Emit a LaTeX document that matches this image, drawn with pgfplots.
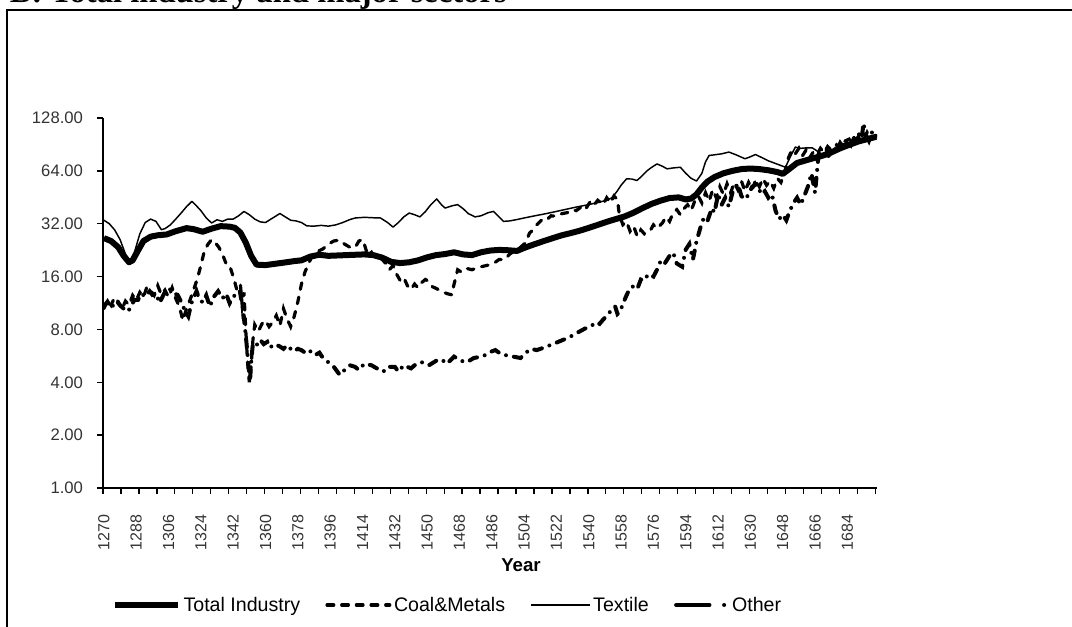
\documentclass[border=0pt]{standalone}
\usepackage{pgfplots}
\pgfplotsset{compat=1.18}
\usepackage{fontspec}
\setmainfont{Liberation Sans}
\newfontfamily\titlefont{Liberation Serif}
\pgfplotsset{
  legLine/.style={legend image code/.code={\draw[##1] (0pt,0pt) -- (47pt,0pt);}},
  legShort/.style={legend image code/.code={\draw[##1] (0pt,0pt) -- (44pt,0pt);}},
  legOther/.style={legend image code/.code={\draw[##1, dash pattern=on 25pt off 11pt on 0pt off 20pt] (1.5pt,0pt) -- (40pt,0pt);}},
}
\begin{document}
\begin{tikzpicture}
\useasboundingbox (-77.25pt,-103.5pt) rectangle (726.75pt,366pt);
\clip (-77.25pt,-103.5pt) rectangle (726.75pt,366pt);
\draw[line width=0.8pt] (-72pt,-130pt) rectangle (780pt,358.5pt);
\node[anchor=base west, inner sep=0pt, font=\titlefont\bfseries\fontsize{24.5}{25}\selectfont] at (-70pt,364.1pt) {B: Total industry and major sectors};
\begin{axis}[
  at={(0pt,0pt)}, anchor=south west,
  scale only axis, width=580.5pt, height=277.5pt,
  xmin=1269.5, xmax=1700.5,
  ymode=log, log basis y=2, ymin=1, ymax=128,
  axis x line=bottom, axis y line=left,
  axis line style={-, line width=1pt, black},
  tick align=outside,
  major tick length=4.5pt,
  every tick/.style={line width=1pt, black},
  yminorticks=false, xminorticks=false,
  ytick={1,2,4,8,16,32,64,128},
  yticklabels={1.00,2.00,4.00,8.00,16.00,32.00,64.00,128.00},
  xtick={1269.5,1279.5,...,1699.5},
  xticklabels={},
  extra x ticks={1270,1288,1306,1324,1342,1360,1378,1396,1414,1432,1450,1468,1486,1504,1522,1540,1558,1576,1594,1612,1630,1648,1666,1684},
  extra x tick labels={1270,1288,1306,1324,1342,1360,1378,1396,1414,1432,1450,1468,1486,1504,1522,1540,1558,1576,1594,1612,1630,1648,1666,1684},
  extra x tick style={tick style={draw=none}},
  xticklabel style={rotate=90, anchor=east, font=\fontsize{12}{14}\selectfont, text=black!80},
  yticklabel style={font=\fontsize{12.5}{14}\selectfont, text=black!80},
  xticklabel shift=12pt, yticklabel shift=7pt,
  legend columns=4,
  legend style={draw=none, fill=none, inner sep=0pt, at={(0.0116,-0.3162)}, anchor=west,
    font=\fontsize{14.7}{16}\selectfont, nodes={inner sep=2pt},
    /tikz/every even column/.append style={column sep=17pt}},
]
\addplot[black, line width=4.5pt, line join=round, legLine] coordinates {
(1270,26.5) (1274,25.5) (1278,23.5) (1281,21) (1284,19.3) (1286,19.8) (1289,22.5) (1292,25.5) (1296,27) (1300,27.5) (1305,27.8) (1310,29) (1316,30.2) (1320,29.8) (1325,28.8) (1330,30) (1335,31) (1340,30.8) (1343,30.3) (1346,28.5) (1349,25) (1352,21) (1355,18.7) (1360,18.6) (1365,18.9) (1370,19.2) (1376,19.6) (1380,19.8) (1385,20.8) (1390,21.3) (1395,21) (1400,21.1) (1405,21.2) (1410,21.3) (1415,21.4) (1420,21.2) (1425,20.5) (1430,19.4) (1435,19.1) (1440,19.3) (1445,19.8) (1450,20.6) (1455,21.2) (1460,21.5) (1465,22) (1470,21.4) (1475,21.2) (1480,22) (1485,22.5) (1490,22.7) (1495,22.6) (1500,22.4) (1505,23.5) (1510,24.5) (1515,25.5) (1520,26.5) (1525,27.5) (1530,28.3) (1535,29.2) (1540,30.3) (1545,31.5) (1550,32.8) (1555,34) (1560,35.2) (1565,37) (1570,39.3) (1575,41.5) (1580,43.3) (1585,44.8) (1590,45.2) (1594,44) (1597,44.5) (1600,47) (1603,51.5) (1606,55.5) (1610,59) (1615,62) (1620,64) (1625,65.5) (1630,66) (1635,65.5) (1640,64.5) (1645,63) (1648,61.5) (1652,66) (1656,71) (1660,73) (1665,75.5) (1670,78) (1675,81.5) (1680,86) (1685,90) (1690,94) (1695,97) (1700,100)
};
\addlegendentry{Total Industry}
\addplot[black, line width=2.4pt, line cap=round, dash pattern=on 5pt off 6pt, legLine] coordinates {
(1270,10.5) (1272,11.8) (1274,11) (1276,12.2) (1278,11.5) (1280,10.4) (1282,11.6) (1284,11) (1286,12.5) (1288,11.7) (1290,13) (1292,12.2) (1294,14) (1296,13.3) (1298,12.5) (1300,14.2) (1302,12.6) (1304,13.4) (1306,12.2) (1308,13.8) (1310,12) (1312,10.8) (1314,9) (1316,10.5) (1318,11.8) (1320,13.5) (1322,15.5) (1324,18.5) (1326,22.5) (1328,24.5) (1330,26) (1332,25) (1334,23.5) (1336,21.5) (1338,19) (1340,18.5) (1342,16) (1344,13.5) (1346,14.5) (1347,11) (1348,13) (1349,8) (1350,5.2) (1351,4.0) (1352,5.0) (1353,7.0) (1354,8.5) (1356,7.8) (1358,8.6) (1360,9.0) (1362,8.3) (1364,8.8) (1366,9.6) (1368,8.4) (1370,10.5) (1372,9.2) (1374,8.3) (1376,9.5) (1378,11.5) (1380,14.5) (1382,17) (1384,19) (1386,21) (1388,22) (1390,22.5) (1392,23) (1395,24.5) (1398,25.5) (1401,25.8) (1404,24.5) (1407,23.5) (1410,23.5) (1412,25.5) (1414,26) (1415,24.5) (1417,21) (1419,22) (1421,20.5) (1424,20.5) (1427,19) (1429,17.5) (1431,18.5) (1433,16.5) (1435,15.2) (1437,15.8) (1439,14.2) (1441,13.5) (1443,14.5) (1445,13.8) (1447,14.8) (1449,15.4) (1451,15) (1453,14) (1455,13.7) (1458,13.2) (1461,12.8) (1463.7,12.6) (1465,14.5) (1467,17.5) (1469,17) (1472,17.8) (1475,17.5) (1478,18) (1481,18.3) (1484,18.6) (1487,19) (1490,20) (1493,20) (1496,21.5) (1499,22.5) (1502,23.5) (1505,25) (1507,28.3) (1509,29.5) (1511,31.5) (1513,33) (1515,34.5) (1517,34) (1519,35.5) (1522,35.3) (1525,36.5) (1528,37) (1531,38.5) (1533,38) (1536,40) (1538,38.5) (1541,43) (1543,41) (1545,43.5) (1548,41.1) (1550,45) (1552,42) (1554,46) (1556,44) (1557,36) (1559,31.6) (1561,33) (1563,29) (1565,31) (1567,27.1) (1569,29.5) (1571,28) (1574,29) (1576,31.5) (1578,30) (1581,32.3) (1583,35) (1585,33) (1587,37) (1589,38.5) (1591,36) (1593,39) (1595,41) (1597,38) (1599,43) (1601,46) (1603,42) (1605,48) (1607,43) (1609,50) (1611,45) (1613,52) (1615,47) (1617,54) (1619,48) (1621,55) (1623,50) (1625,56) (1627,49) (1629,55) (1631,50) (1633,57) (1635,52) (1637,58) (1639,53) (1641,56) (1643,51) (1645,58) (1647,55) (1649,62) (1651,75) (1653,84) (1655,80) (1657,86) (1659,78) (1661,84) (1663,76) (1665,82) (1667,79) (1669,86) (1671,81) (1673,88) (1675,84) (1678,90) (1680,86) (1682,94) (1685,97) (1687,91) (1690,100) (1693,95) (1695,106) (1697,98) (1700,102)
};
\addlegendentry{Coal\&Metals}
\addplot[black, line width=1.1pt, line join=round, legShort] coordinates {
(1270,33.5) (1273,32) (1276,29.5) (1279,26) (1282,21.5) (1284.5,19.6) (1287,22) (1290,28) (1293,32.5) (1296,34) (1299,33) (1302,29.6) (1304,30) (1307,31.5) (1310,34) (1313,36.8) (1316,40) (1319,42.9) (1321,41) (1324,38) (1327,34.5) (1330,32.3) (1333,33.7) (1336,33) (1339,34) (1342,34) (1345,35.5) (1348,37.6) (1351,36) (1354,34) (1357,32.8) (1360,32.5) (1363,34) (1366,35.5) (1368,36.6) (1371,35) (1374,33.5) (1377,33.2) (1380,32.5) (1383,31.1) (1387,31) (1391,31.3) (1395,31) (1399,31.5) (1403,32.5) (1407,33.8) (1410,34.5) (1415,34.8) (1420,34.6) (1424,34.5) (1428,32.5) (1431,30.6) (1434,32.5) (1437,35) (1440,36.8) (1443,36) (1446,35) (1449,37.5) (1452,41) (1455.3,44.3) (1458,41) (1460,39.3) (1464,40.5) (1467,41.1) (1470,39) (1473,36.5) (1476.7,35) (1480,35.5) (1484,37) (1487,37.6) (1490,35) (1492.5,33) (1496,33.2) (1500,33.8) (1504,34.5) (1510,35.5) (1516,36.5) (1522,37.6) (1528,38.8) (1534,40) (1540,41.1) (1546,42.5) (1550,43.5) (1553,45) (1555.7,48.9) (1558,53) (1561,57.6) (1564,57.5) (1566.8,56.4) (1569,59) (1572.4,64) (1575,67) (1578,70.1) (1581,68) (1583.6,65.7) (1587,66.5) (1591,67.1) (1594,62) (1597,58) (1600,56) (1603,62) (1605,72) (1607,78.3) (1610,79) (1614,80) (1618,81.9) (1622,79) (1627,75) (1630,77) (1632.8,79.3) (1636,76.5) (1640,73) (1644,70.5) (1649.5,67.1) (1652,76) (1655,87.4) (1658,86) (1661,86.5) (1664.4,86.6) (1668,82) (1671,78) (1673.6,76.6) (1677,83) (1681,91.3) (1685,92.5) (1690,95.3) (1695,98.5) (1700,101.8)
};
\addlegendentry{Textile}
\addplot[black, line width=3pt, line cap=round, dash pattern=on 6pt off 6pt on 0pt off 6pt, legOther] coordinates {
(1270,10.8) (1272,11.5) (1274,10.6) (1277,11.6) (1279,11) (1281,10.5) (1283.4,10.1) (1285,10.8) (1287,11.8) (1289,11.8) (1291,12.8) (1293,12.3) (1295.5,13.2) (1297,12.6) (1299,12.9) (1301,11.3) (1303,12.5) (1305,13.6) (1307,13.5) (1309,12.8) (1311,12.6) (1313,11.5) (1315,10.3) (1317,9.5) (1319,11.5) (1321.6,13.2) (1323,12) (1325,11.4) (1327,12.5) (1329,10.8) (1331,12.2) (1333.6,13.2) (1336,12) (1338,12.8) (1340,11.3) (1342,12.4) (1344,12.5) (1345.7,13.2) (1347.5,10.4) (1349.4,6.7) (1350.5,5) (1351.3,4.0) (1352.2,5.5) (1353,6.7) (1355,6.5) (1357,7.0) (1359,6.6) (1361,6.8) (1362.4,6.3) (1365,6.6) (1368,6.4) (1370,6.2) (1372,6.5) (1375.4,6.0) (1378,6.2) (1380,6.1) (1383,5.8) (1385,6.0) (1387.5,5.7) (1390,5.9) (1392,5.5) (1395,5.2) (1398,4.9) (1401.4,4.4) (1404,4.7) (1407,5.0) (1409.8,4.9) (1412,4.7) (1415,5.1) (1419,5.0) (1422,4.8) (1425.6,4.6) (1428,4.9) (1432,4.9) (1434,4.6) (1437,5.0) (1441,4.8) (1444,5.1) (1447,5.2) (1451,5.0) (1455,5.3) (1458,5.4) (1461,5.1) (1465,5.6) (1469,5.3) (1472,5.2) (1476,5.5) (1480,5.6) (1484,5.8) (1486,6.0) (1488,6.1) (1491,5.8) (1494,5.7) (1498,5.6) (1502,5.5) (1505,5.9) (1508,6.2) (1511,6.1) (1515,6.3) (1520,6.6) (1526,7.0) (1530,7.3) (1533,7.6) (1535,7.8) (1538,8.1) (1541,8.3) (1544,8.8) (1546,8.6) (1548,9.1) (1551,9.8) (1553,10.5) (1554.7,10.8) (1556,9.8) (1557.5,10.1) (1559,11.2) (1561,12.5) (1563,13.8) (1565,14.1) (1567,13.6) (1569,15.4) (1571,15.2) (1573,16.5) (1576,16) (1578,17.5) (1580,19.6) (1582,18.8) (1585,21) (1587,21.9) (1589,19) (1592,18.2) (1594,22.8) (1596,24.5) (1598,20) (1600,25.4) (1602,30) (1604,34.5) (1606,33) (1608.6,39.3) (1610,37) (1612,47) (1614,41) (1616,45) (1618,40) (1620,48) (1623,54) (1625,46) (1627,44) (1629,47) (1631,52) (1633.7,54) (1636,47) (1638,49) (1640,45) (1642,47) (1644,38) (1646,34) (1648,36) (1650,33.5) (1652,38) (1654,42) (1656,45) (1658,41) (1660,46) (1662,52) (1664,62) (1666,48) (1668,80) (1670,76) (1672,85) (1674,80) (1676,88) (1678,83) (1680,92) (1682,86) (1684,96) (1686,90) (1688,100) (1690,105) (1692,98) (1693,120) (1694,104) (1696,95) (1698,108) (1700,100)
};
\addlegendentry{Other}
\end{axis}
\node[font=\bfseries\fontsize{14}{16}\selectfont] at (313.5pt,-57.75pt) {Year};
\end{tikzpicture}
\end{document}
